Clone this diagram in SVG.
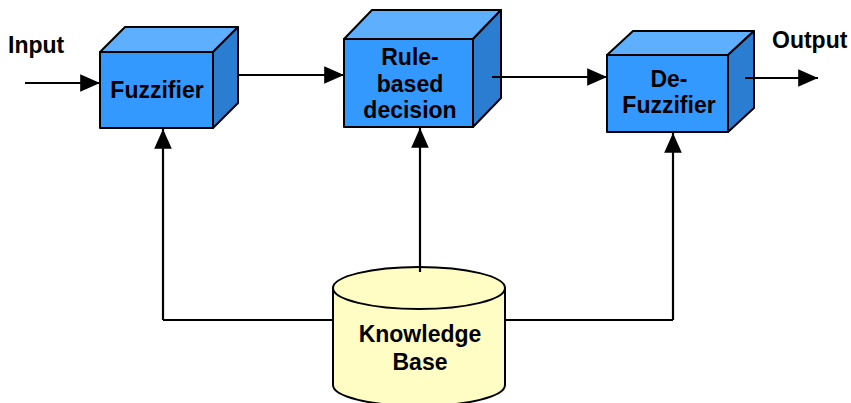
<svg xmlns="http://www.w3.org/2000/svg" width="851" height="403" viewBox="0 0 851 403">
<defs>
<marker id="ah" markerWidth="9" markerHeight="8" refX="9" refY="4" orient="auto" markerUnits="strokeWidth">
<path d="M0,0 L9,4 L0,8 Z" fill="#000"/>
</marker>
<style>
.front{fill:#3399FF;stroke:#000;stroke-width:2;stroke-linejoin:round}
.top{fill:#5EB0FF;stroke:#000;stroke-width:2;stroke-linejoin:round}
.side{fill:#2A7DD0;stroke:#000;stroke-width:2;stroke-linejoin:round}
.lbl{font-family:"Liberation Sans",Arial,sans-serif;font-weight:bold;font-size:23px;fill:#000;text-anchor:middle}
.io{font-family:"Liberation Sans",Arial,sans-serif;font-weight:bold;font-size:23px;fill:#000}
.conn{stroke:#000;stroke-width:2.2;fill:none}
</style>
</defs>
<rect width="851" height="403" fill="#fff"/>
<g id="connectors">
<line class="conn" x1="163" y1="320" x2="333" y2="320"/>
<line class="conn" x1="505" y1="320" x2="673" y2="320"/>
</g>
<g id="fuzzifier">
<polygon class="top" points="100,52 125,27 238,27 213,52"/>
<polygon class="side" points="213,52 238,27 238,103 213,128"/>
<rect class="front" x="100" y="52" width="113" height="76"/>
<text class="lbl" x="157" y="98">Fuzzifier</text>
</g>
<g id="rule">
<polygon class="top" points="344,39 372,10 501,10 473,39"/>
<polygon class="side" points="473,39 501,10 501,98 473,127"/>
<rect class="front" x="344" y="39" width="129" height="88"/>
<text class="lbl" x="410" y="65">Rule-</text>
<text class="lbl" x="410" y="92">based</text>
<text class="lbl" x="410" y="118">decision</text>
</g>
<g id="defuzzifier">
<polygon class="top" points="607,55 633,31 754,31 728,55"/>
<polygon class="side" points="728,55 754,31 754,108 728,132"/>
<rect class="front" x="607" y="55" width="121" height="77"/>
<text class="lbl" x="669" y="87">De-</text>
<text class="lbl" x="669" y="113">Fuzzifier</text>
</g>
<g id="kb">
<path d="M333,288 L333,385 A86,21 0 0 0 505,385 L505,288" fill="#FFFDC4" stroke="#000" stroke-width="2"/>
<ellipse cx="419" cy="288" rx="86" ry="21" fill="#FFFDC4" stroke="#000" stroke-width="2"/>
<text class="lbl" x="420" y="342">Knowledge</text>
<text class="lbl" x="420" y="370">Base</text>
</g>
<g id="io">
<text class="io" x="8" y="53">Input</text>
<text class="io" x="772" y="48">Output</text>
</g>
<g id="arrows">
<line class="conn" x1="25" y1="83" x2="100" y2="83" marker-end="url(#ah)"/>
<line class="conn" x1="238" y1="75" x2="344" y2="75" marker-end="url(#ah)"/>
<line class="conn" x1="492" y1="77" x2="607" y2="77" marker-end="url(#ah)"/>
<line class="conn" x1="745" y1="78" x2="818" y2="78" marker-end="url(#ah)"/>
<line class="conn" x1="163" y1="320" x2="163" y2="129" marker-end="url(#ah)"/>
<line class="conn" x1="420" y1="272" x2="420" y2="128" marker-end="url(#ah)"/>
<line class="conn" x1="673" y1="320" x2="673" y2="133" marker-end="url(#ah)"/>
</g>
</svg>
